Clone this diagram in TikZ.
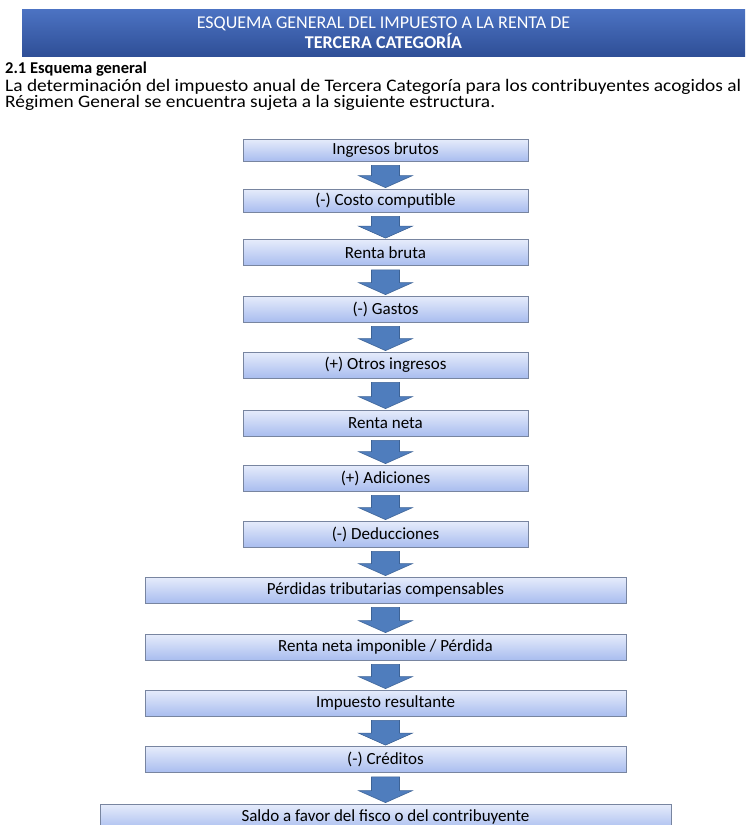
\documentclass[tikz,border=0pt]{standalone}
\usepackage{fontspec}
\setmainfont{Carlito}
\usepackage{xcolor}
\usetikzlibrary{calc}

\definecolor{bannertop}{HTML}{4C73C3}
\definecolor{bannerbot}{HTML}{2F4F97}
\definecolor{boxtop}{HTML}{E6ECFB}
\definecolor{boxbot}{HTML}{A9BDEF}
\definecolor{boxline}{HTML}{7885A0}
\definecolor{arrowfill}{HTML}{4F7DBD}
\definecolor{arrowline}{HTML}{3D6396}

\begin{document}
\begin{tikzpicture}[x=1pt, y=-1pt,
    banner/.style={rectangle, top color=bannertop, bottom color=bannerbot, text=white, align=center, inner sep=0pt, font=\fontsize{18}{20}\selectfont},
    paso/.style={rectangle, draw=boxline, line width=0.8pt, top color=boxtop, bottom color=boxbot, minimum height=26pt, inner sep=0pt, font=\fontsize{17}{18}\selectfont},
    angosto/.style={paso, minimum width=285pt},
    ancho/.style={paso, minimum width=481pt},
    flecha/.style={draw=arrowline, fill=arrowfill, line width=0.6pt, line join=miter}
    ]
    \useasboundingbox (0,0) rectangle (747,825);

    % encabezado
    \node[banner, minimum width=723pt, minimum height=47pt] (titulo) at (383.5,32.5) {ESQUEMA GENERAL DEL IMPUESTO A LA RENTA DE\\ \textbf{TERCERA CATEGORÍA}};
    \node[anchor=base west, inner sep=0pt, font=\fontsize{16.5}{18}\selectfont\bfseries] (seccion) at (5,73) {2.1 Esquema general};
    \node[anchor=base west, inner sep=0pt, align=left, transform shape, xscale=1.1, font=\fontsize{17.6}{16.5}\selectfont] (texto) at (5,107.5) {La determinación del impuesto anual de Tercera Categoría para los contribuyentes acogidos al\\ Régimen General se encuentra sujeta a la siguiente estructura.};

    % pasos del esquema
    \node[angosto, minimum height=22pt] (ingresos) at (385.5,150) {Ingresos brutos};
    \node[angosto, minimum height=23pt] (costo) at (385.5,200.5) {(-) Costo computible};
    \node[angosto] (rbruta) at (385.5,252.5) {Renta bruta};
    \node[angosto] (gastos) at (385.5,309) {(-) Gastos};
    \node[angosto] (otros) at (385.5,365) {(+) Otros ingresos};
    \node[angosto] (rneta) at (385.5,423) {Renta neta};
    \node[angosto] (adiciones) at (385.5,478) {(+) Adiciones};
    \node[angosto] (deducciones) at (385.5,534) {(-) Deducciones};
    \node[ancho] (perdidas) at (385.5,590) {Pérdidas tributarias compensables};
    \node[ancho] (imponible) at (385.5,647) {Renta neta imponible / Pérdida};
    \node[ancho] (impuesto) at (385.5,703) {Impuesto resultante};
    \node[ancho] (creditos) at (385.5,759.5) {(-) Créditos};
    \node[paso, minimum width=571pt] (saldo) at (385.5,817) {Saldo a favor del fisco o del contribuyente};

    % flechas
    \foreach \a/\b in {ingresos/costo, costo/rbruta, rbruta/gastos, gastos/otros, otros/rneta,
                       rneta/adiciones, adiciones/deducciones, deducciones/perdidas, perdidas/imponible,
                       imponible/impuesto, impuesto/creditos, creditos/saldo}
      \draw[flecha] ($(\a.south)+(-14,4)$) -- ($(\a.south)+(14,4)$) -- ($(\b.north)+(14,-13)$)
        -- ($(\b.north)+(27,-13)$) -- ($(\b.north)+(0,-1)$) -- ($(\b.north)+(-27,-13)$)
        -- ($(\b.north)+(-14,-13)$) -- cycle;
\end{tikzpicture}
\end{document}
